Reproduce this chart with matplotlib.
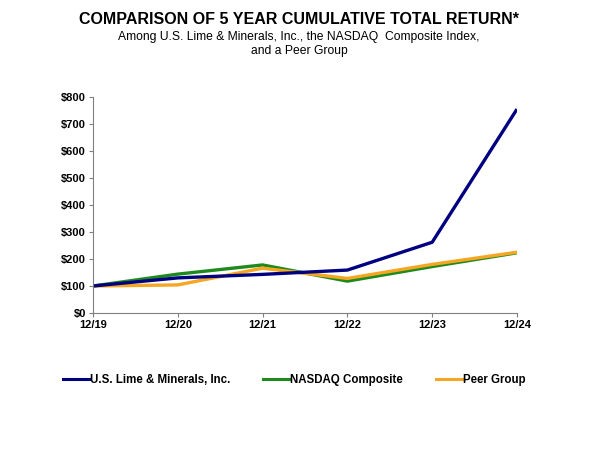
import matplotlib
matplotlib.use("Agg")
import matplotlib.pyplot as plt
from matplotlib.lines import Line2D

plt.rcParams["font.family"] = ["Liberation Sans", "DejaVu Sans"]

years = ["12/19", "12/20", "12/21", "12/22", "12/23", "12/24"]
us_lime = [100, 130, 143, 159, 262, 755]
nasdaq = [100, 144, 178, 118, 172, 223]
peer = [100, 104, 166, 128, 180, 225]

c_lime = "#000080"
c_nasdaq = "#1E8A1E"
c_peer = "#F5A623"

fig = plt.figure(figsize=(5.98, 4.49), dpi=100)
ax = fig.add_axes([0.1555, 0.3029, 0.709, 0.4811])

x = range(len(years))
ax.plot(x, nasdaq, color=c_nasdaq, lw=2.4, solid_capstyle="butt")
ax.plot(x, peer, color=c_peer, lw=2.4, solid_capstyle="butt")
ax.plot(x, us_lime, color=c_lime, lw=2.4, solid_capstyle="butt")

ax.set_xlim(0, len(years) - 1)
ax.set_ylim(0, 800)
ax.set_xticks(list(x))
ax.set_xticklabels(years, fontsize=8, fontweight="bold")
ax.set_yticks(range(0, 801, 100))
ax.set_yticklabels(["${}".format(v) for v in range(0, 801, 100)], fontsize=8, fontweight="bold")
for s in ["top", "right"]:
    ax.spines[s].set_visible(False)
for s in ["left", "bottom"]:
    ax.spines[s].set_color("#808080")
    ax.spines[s].set_linewidth(0.8)
ax.tick_params(axis="both", colors="#808080", length=3, width=0.8, labelcolor="black", pad=2)

fig.text(0.5, 0.957, "COMPARISON OF 5 YEAR CUMULATIVE TOTAL RETURN*", ha="center", va="center",
         fontsize=11.5, fontweight="bold")
fig.text(0.5, 0.917, "Among U.S. Lime & Minerals, Inc., the NASDAQ  Composite Index,", ha="center",
         va="center", fontsize=8.7)
fig.text(0.5, 0.887, "and a Peer Group", ha="center", va="center", fontsize=8.7)

handles = [Line2D([], [], color=c_lime, lw=2.2),
           Line2D([], [], color=c_nasdaq, lw=2.2),
           Line2D([], [], color=c_peer, lw=2.2)]
labels = ["U.S. Lime & Minerals, Inc.", "NASDAQ Composite", "Peer Group"]
leg = fig.legend(handles, labels, loc="center", bbox_to_anchor=(0.492, 0.153), ncol=3, frameon=False,
                 prop={"size": 8.3, "weight": "bold"}, handlelength=2.2, handletextpad=0.1,
                 columnspacing=2.9)

fig.savefig("out.png", dpi=100)
